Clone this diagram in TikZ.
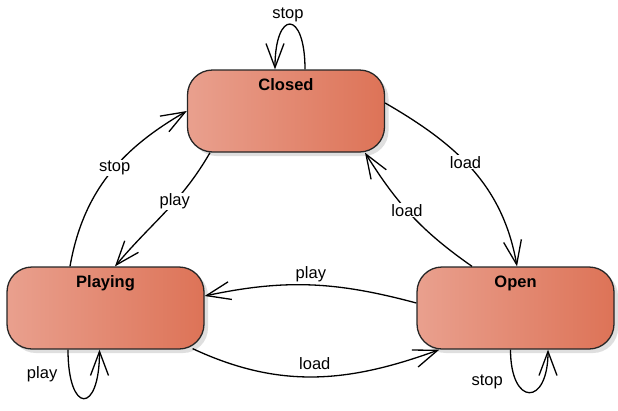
\documentclass[tikz,border=0pt]{standalone}
\usepackage{fontspec}
\setmainfont{Liberation Sans}
\usetikzlibrary{arrows.meta,shadows}
\definecolor{stateleft}{RGB}{233,160,142}
\definecolor{stateright}{RGB}{221,115,87}
\begin{document}
\begin{tikzpicture}[x=1pt,y=1pt,
  state/.style={draw=black!85, line width=1.3pt, rounded corners=25pt,
    left color=stateleft, right color=stateright,
    drop shadow={shadow xshift=4pt, shadow yshift=-4pt, fill=black!25},
    minimum width=197pt, minimum height=82pt, inner sep=0pt,
    text height=20pt, text depth=62pt,
    font=\fontsize{16.5}{19}\selectfont\bfseries},
  trans/.style={line width=1.3pt, -{Straight Barb[length=24pt,width=18pt]}},
  lbl/.style={font=\fontsize{16.5}{19}\selectfont, fill=white, inner sep=1pt},
  lblfree/.style={font=\fontsize{16.5}{19}\selectfont, inner sep=2pt}]
% page frame
\useasboundingbox (0,0) rectangle (618,-410);
% states
\node[state] (closed) at (286,-111) {Closed};
\node[state] (playing) at (105.5,-308) {Playing};
\node[state] (open) at (515.5,-308) {Open};
% transitions
\draw[trans] ([xshift=19pt]closed.north) to[out=90,in=90,distance=60pt]
  node[lblfree,above,xshift=-2pt] {stop} ([xshift=-11pt]closed.north);
\draw[trans] ([yshift=8pt]closed.east) to[out=-30,in=100]
  node[lbl,pos=0.45] {load} ([xshift=1.5pt]open.north);
\draw[trans] ([xshift=-43.5pt]open.north) to[out=145,in=-58]
  node[lbl,pos=0.55] {load} ([xshift=79pt]closed.south);
\draw[trans] ([xshift=-76pt]closed.south) to[out=-120,in=50]
  node[lbl,pos=0.4] {play} ([xshift=9.5pt]playing.north);
\draw[trans] ([xshift=-35.5pt]playing.north) to[out=80,in=-150]
  node[lbl,pos=0.55] {stop} (closed.west);
\draw[trans] ([yshift=5pt]open.west) to[out=165,in=12]
  node[lblfree,above] {play} ([yshift=12pt]playing.east);
\draw[trans] ([xshift=-12pt,yshift=1pt]playing.south east) to[out=-25,in=-160]
  node[lblfree,above=5pt] {load} ([xshift=23pt]open.south west);
% self loops
\draw[trans] ([xshift=-37.5pt]playing.south) to[out=-90,in=-90,distance=65pt]
  node[lblfree,left=10pt,pos=0.15] {play} ([xshift=-6pt]playing.south);
\draw[trans] ([xshift=-5pt]open.south) to[out=-90,in=-90,distance=57pt]
  node[lblfree,left=11pt,pos=0.25] {stop} ([xshift=32.5pt]open.south);
\end{tikzpicture}
\end{document}
